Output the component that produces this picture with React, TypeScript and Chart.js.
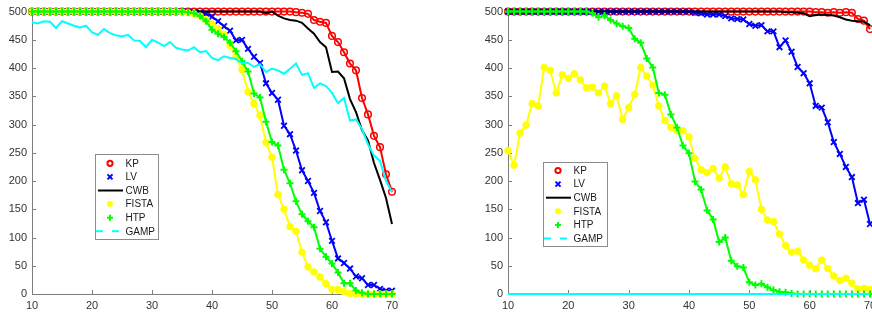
import React, { useEffect, useRef } from "react";
import { Chart, registerables } from "chart.js";

Chart.register(...registerables);

// ---------- data ----------
const N = [10, 11, 12, 13, 14, 15, 16, 17, 18, 19, 20, 21, 22, 23, 24, 25, 26, 27, 28, 29, 30, 31, 32, 33, 34, 35, 36, 37, 38, 39, 40, 41, 42, 43, 44, 45, 46, 47, 48, 49, 50, 51, 52, 53, 54, 55, 56, 57, 58, 59, 60, 61, 62, 63, 64, 65, 66, 67, 68, 69, 70];

const X_TICKS = [10, 20, 30, 40, 50, 60, 70];
const Y_TICKS = [0, 50, 100, 150, 200, 250, 300, 350, 400, 450, 500];

const LABELS = ["KP", "LV", "CWB", "FISTA", "HTP", "GAMP"];

// left panel
const KP_A = [500, 500, 500, 500, 500, 500, 500, 500, 500, 500, 500, 500, 500, 500, 500, 500, 500, 500, 500, 500, 500, 500, 500, 500, 500, 500, 500, 500, 500, 500, 500, 500, 500, 500, 500, 500, 500, 500, 500, 500, 500, 500, 500, 500, 499, 498, 496, 485, 482, 480, 457, 446, 428, 408, 396, 347, 318, 280, 260, 212, 181];
const LV_A = [500, 500, 500, 500, 500, 500, 500, 500, 500, 500, 500, 500, 500, 500, 500, 500, 500, 500, 500, 500, 500, 500, 500, 500, 500, 500, 500, 499, 498, 496, 491, 483, 474, 466, 449, 450, 434, 420, 409, 373, 356, 344, 298, 283, 254, 219, 200, 179, 147, 127, 94, 63, 55, 45, 31, 28, 16, 16, 9, 6, 6];
const CWB_A = [500, 500, 500, 500, 500, 500, 500, 500, 500, 500, 500, 500, 500, 500, 500, 500, 500, 500, 500, 500, 500, 500, 500, 500, 500, 500, 500, 500, 500, 500, 500, 500, 500, 500, 500, 500, 500, 500, 500, 497, 500, 493, 488, 485, 484, 480, 470, 461, 446, 437, 393, 394, 382, 345, 322, 290, 272, 232, 202, 170, 124];
const FISTA_A = [500, 500, 500, 500, 500, 500, 500, 500, 500, 500, 500, 500, 500, 500, 500, 500, 500, 500, 500, 500, 500, 500, 500, 500, 500, 499, 498, 496, 492, 486, 478, 470, 460, 440, 420, 397, 358, 337, 316, 268, 242, 176, 150, 119, 111, 74, 48, 39, 30, 18, 8, 8, 4, 1, 0, 0, 0, 0, 0, 0, 0];
const HTP_A = [500, 500, 500, 500, 500, 500, 500, 500, 500, 500, 500, 500, 500, 500, 500, 500, 500, 500, 500, 500, 500, 500, 500, 500, 500, 500, 499, 497, 492, 483, 468, 461, 455, 445, 430, 412, 394, 355, 348, 305, 269, 263, 220, 196, 164, 141, 129, 118, 80, 66, 54, 38, 19, 19, 6, 2, 0, 0, 0, 0, 0];
const GAMP_A = [481, 479, 483, 482, 471, 483, 479, 475, 472, 475, 463, 459, 469, 462, 458, 456, 459, 449, 448, 437, 450, 445, 439, 446, 436, 433, 431, 437, 428, 430, 418, 414, 421, 418, 416, 409, 409, 402, 407, 393, 399, 396, 390, 399, 408, 388, 391, 365, 373, 368, 356, 338, 347, 307, 309, 292, 265, 245, 236, 200, 180];

// right panel
const KP_B = [500, 500, 500, 500, 500, 500, 500, 500, 500, 500, 500, 500, 500, 500, 500, 500, 500, 500, 500, 500, 500, 500, 500, 500, 500, 500, 500, 500, 500, 500, 500, 500, 500, 500, 500, 500, 500, 500, 500, 500, 500, 500, 500, 500, 500, 500, 500, 500, 500, 500, 500, 499, 499, 498, 499, 498, 499, 498, 487, 484, 469];
const LV_B = [500, 500, 500, 500, 500, 500, 500, 500, 500, 500, 500, 500, 500, 500, 500, 500, 500, 500, 500, 500, 500, 500, 500, 500, 500, 500, 500, 500, 500, 500, 500, 498, 497, 495, 495, 495, 492, 488, 487, 486, 478, 475, 476, 465, 465, 437, 449, 429, 402, 391, 373, 333, 330, 304, 269, 248, 225, 207, 161, 167, 124];
const CWB_B = [500, 500, 500, 500, 500, 500, 500, 500, 500, 500, 500, 500, 500, 500, 500, 500, 500, 500, 500, 500, 500, 500, 500, 500, 500, 500, 500, 500, 500, 500, 500, 500, 500, 500, 500, 500, 500, 500, 500, 500, 500, 500, 500, 500, 500, 500, 499, 499, 498, 497, 492, 494, 495, 494, 493, 490, 486, 484, 483, 482, 476];
const FISTA_B = [254, 228, 285, 299, 337, 333, 401, 396, 356, 388, 382, 390, 379, 365, 366, 356, 368, 337, 351, 309, 330, 353, 401, 386, 370, 333, 307, 295, 289, 289, 278, 240, 220, 215, 222, 205, 225, 195, 193, 176, 217, 202, 150, 131, 128, 106, 86, 74, 76, 60, 51, 45, 60, 45, 32, 24, 28, 19, 9, 10, 8];
const HTP_B = [500, 500, 500, 500, 500, 500, 500, 500, 500, 500, 500, 500, 500, 500, 497, 490, 493, 485, 479, 474, 471, 452, 445, 417, 401, 356, 353, 318, 295, 263, 249, 199, 185, 148, 132, 92, 100, 59, 49, 47, 21, 16, 18, 12, 7, 4, 3, 1, 0, 0, 0, 0, 0, 0, 0, 0, 0, 0, 0, 0, 0];
const GAMP_B = [0, 0, 0, 0, 0, 0, 0, 0, 0, 0, 0, 0, 0, 0, 0, 0, 0, 0, 0, 0, 0, 0, 0, 0, 0, 0, 0, 0, 0, 0, 0, 0, 0, 0, 0, 0, 0, 0, 0, 0, 0, 0, 0, 0, 0, 0, 0, 0, 0, 0, 0, 0, 0, 0, 0, 0, 0, 0, 0, 0, 0];

// ---------- styles ----------
const FONT = "'Liberation Sans', Arial, Helvetica, sans-serif";
const AXIS_COLOR = "#7d7d7d";
const TEXT_COLOR = "#333333";

type Style = {
  color: string;
  pointStyle: any;
  radius: number;
  pointBorder: number;
  fill: string;
  order: number;
  legend: "circle" | "crossRot" | "dot" | "cross" | "line" | "dash";
};

const STYLE: Record<string, Style> = {
  KP: { color: "#ff0000", pointStyle: "circle", radius: 3.3, pointBorder: 1.5, fill: "rgba(0,0,0,0)", order: 6, legend: "circle" },
  LV: { color: "#0000ff", pointStyle: "crossRot", radius: 4, pointBorder: 1.8, fill: "#0000ff", order: 5, legend: "crossRot" },
  CWB: { color: "#000000", pointStyle: false, radius: 0, pointBorder: 0, fill: "#000000", order: 4, legend: "line" },
  FISTA: { color: "#ffff00", pointStyle: "circle", radius: 3.3, pointBorder: 1, fill: "#ffff00", order: 3, legend: "dot" },
  HTP: { color: "#00ff00", pointStyle: "cross", radius: 3.5, pointBorder: 2, fill: "#00ff00", order: 2, legend: "cross" },
  GAMP: { color: "#00ffff", pointStyle: false, radius: 0, pointBorder: 0, fill: "#00ffff", order: 1, legend: "dash" },
};

// ---------- plugins ----------
const inwardTicks = {
  id: "inwardTicks",
  beforeDatasetsDraw(chart: any) {
    const { ctx, chartArea, scales } = chart;
    ctx.save();
    ctx.strokeStyle = AXIS_COLOR;
    ctx.lineWidth = 1;
    ctx.beginPath();
    scales.x.ticks.forEach((t: any) => {
      const px = Math.round(scales.x.getPixelForValue(t.value)) + 0.5;
      ctx.moveTo(px, chartArea.bottom);
      ctx.lineTo(px, chartArea.bottom - 4);
    });
    scales.y.ticks.forEach((t: any) => {
      const py = Math.round(scales.y.getPixelForValue(t.value)) + 0.5;
      ctx.moveTo(chartArea.left, py);
      ctx.lineTo(chartArea.left + 4, py);
    });
    ctx.stroke();
    ctx.restore();
  },
};

const boxLegend = {
  id: "boxLegend",
  afterDraw(chart: any, _args: any, opts: any) {
    const { ctx } = chart;
    const { x, y, w, h, first, rowH } = opts;
    ctx.save();
    ctx.fillStyle = "#ffffff";
    ctx.fillRect(x, y, w, h);
    ctx.strokeStyle = "#8c8c8c";
    ctx.lineWidth = 1;
    ctx.strokeRect(x + 0.5, y + 0.5, w - 1, h - 1);
    chart.data.datasets.forEach((ds: any, i: number) => {
      const st = STYLE[ds.label];
      const cy = y + first + i * rowH;
      const mx = x + 15;
      ctx.strokeStyle = st.color;
      ctx.fillStyle = st.color;
      ctx.setLineDash([]);
      ctx.beginPath();
      if (st.legend === "circle") {
        ctx.lineWidth = 2;
        ctx.arc(mx, cy, 2.6, 0, Math.PI * 2);
        ctx.stroke();
      } else if (st.legend === "dot") {
        ctx.arc(mx, cy, 3, 0, Math.PI * 2);
        ctx.fill();
      } else if (st.legend === "crossRot") {
        ctx.lineWidth = 2;
        ctx.moveTo(mx - 2.5, cy - 2.5);
        ctx.lineTo(mx + 2.5, cy + 2.5);
        ctx.moveTo(mx + 2.5, cy - 2.5);
        ctx.lineTo(mx - 2.5, cy + 2.5);
        ctx.stroke();
      } else if (st.legend === "cross") {
        ctx.lineWidth = 2;
        ctx.moveTo(mx - 3, cy);
        ctx.lineTo(mx + 3, cy);
        ctx.moveTo(mx, cy - 3);
        ctx.lineTo(mx, cy + 3);
        ctx.stroke();
      } else if (st.legend === "line") {
        ctx.lineWidth = 2;
        ctx.moveTo(x + 3, cy);
        ctx.lineTo(x + 28, cy);
        ctx.stroke();
      } else {
        ctx.lineWidth = 2;
        ctx.setLineDash([7, 9]);
        ctx.moveTo(x + 1, cy);
        ctx.lineTo(x + 29, cy);
        ctx.stroke();
        ctx.setLineDash([]);
      }
      ctx.fillStyle = "#1a1a1a";
      ctx.font = `10px ${FONT}`;
      ctx.textAlign = "left";
      ctx.textBaseline = "middle";
      ctx.fillText(ds.label, x + 30.5, cy + 0.5);
    });
    ctx.restore();
  },
};

// ---------- chart builder ----------
function makeDatasets(series: number[][]) {
  return LABELS.map((label, i) => {
    const st = STYLE[label];
    return {
      label,
      data: N.map((n, k) => ({ x: n, y: series[i][k] })),
      borderColor: st.color,
      backgroundColor: st.fill,
      borderWidth: 2,
      pointStyle: st.pointStyle,
      pointRadius: st.radius,
      pointBorderWidth: st.pointBorder,
      pointBorderColor: st.color,
      pointBackgroundColor: st.fill,
      tension: 0,
      clip: false as any,
      order: st.order,
    };
  });
}

function makeConfig(series: number[][], padLeft: number, padRight: number, legend: any): any {
  return {
    type: "line",
    data: { datasets: makeDatasets(series) },
    options: {
      animation: false,
      responsive: false,
      devicePixelRatio: 1,
      events: [],
      layout: { padding: { left: padLeft, right: padRight, top: 7, bottom: 0 }, autoPadding: false },
      plugins: { legend: { display: false }, tooltip: { enabled: false }, boxLegend: legend },
      scales: {
        x: {
          type: "linear",
          min: X_TICKS[0],
          max: X_TICKS[X_TICKS.length - 1],
          afterBuildTicks: (s: any) => {
            s.ticks = X_TICKS.map((v) => ({ value: v }));
          },
          afterFit: (s: any) => {
            s.height = 26;
          },
          ticks: { color: TEXT_COLOR, font: { family: FONT, size: 11 }, padding: 5, maxRotation: 0, autoSkip: false },
          grid: { drawOnChartArea: false, drawTicks: false },
          border: { color: AXIS_COLOR, width: 1 },
        },
        y: {
          type: "linear",
          min: Y_TICKS[0],
          max: Y_TICKS[Y_TICKS.length - 1],
          afterBuildTicks: (s: any) => {
            s.ticks = Y_TICKS.map((v) => ({ value: v }));
          },
          afterFit: (s: any) => {
            s.width = 32;
          },
          ticks: { color: TEXT_COLOR, font: { family: FONT, size: 11 }, padding: 5, autoSkip: false },
          grid: { drawOnChartArea: false, drawTicks: false },
          border: { color: AXIS_COLOR, width: 1 },
        },
      },
    },
    plugins: [inwardTicks, boxLegend],
  };
}

export default function App() {
  const leftRef = useRef<HTMLCanvasElement>(null);
  const rightRef = useRef<HTMLCanvasElement>(null);

  useEffect(() => {
    const c1 = new Chart(
      leftRef.current as HTMLCanvasElement,
      makeConfig([KP_A, LV_A, CWB_A, FISTA_A, HTP_A, GAMP_A], 0, 44, { x: 95, y: 154, w: 64, h: 86, first: 9.3, rowH: 13.6 })
    );
    const c2 = new Chart(
      rightRef.current as HTMLCanvasElement,
      makeConfig([KP_B, LV_B, CWB_B, FISTA_B, HTP_B, GAMP_B], 40, 26, { x: 107, y: 162, w: 65, h: 85, first: 8.5, rowH: 13.6 })
    );
    return () => {
      c1.destroy();
      c2.destroy();
    };
  }, []);

  return (
    <div style={{ position: "fixed", left: 0, top: 0, width: 872, height: 320, overflow: "hidden", background: "#ffffff" }}>
      <canvas ref={leftRef} width={436} height={320} style={{ position: "absolute", left: 0, top: 0 }} />
      <canvas ref={rightRef} width={460} height={320} style={{ position: "absolute", left: 436, top: 0 }} />
    </div>
  );
}
